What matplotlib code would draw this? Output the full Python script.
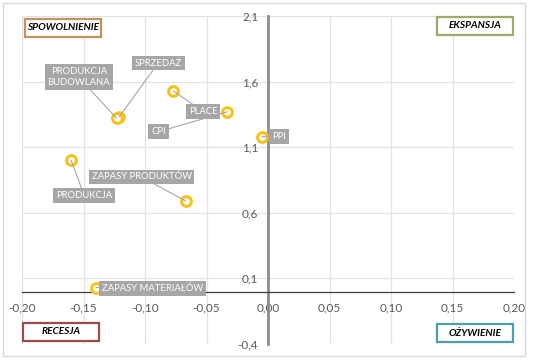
import matplotlib.pyplot as plt
from matplotlib.patches import Rectangle
from matplotlib.ticker import FuncFormatter, MultipleLocator

plt.rcParams['font.family'] = ['Lato', 'DejaVu Sans']

# data
names = ['SPRZEDAŻ', 'PRODUKCJA\nBUDOWLANA', 'PLACE', 'CPI', 'PPI',
         'PRODUKCJA', 'ZAPASY PRODUKTÓW', 'ZAPASY MATERIAŁÓW']
xs = [-0.121, -0.123, -0.077, -0.033, -0.005, -0.160, -0.067, -0.140]
ys = [1.33, 1.32, 1.53, 1.37, 1.18, 1.00, 0.69, 0.03]

# label offsets in pixels (layout only)
offsets = [(39, 54), (-38, 41), (30, -21), (-69, -20), (17, 0),
           (13, -35), (-44, 24), (57, -1)]

quadrants = ['SPOWOLNIENIE', 'EKSPANSJA', 'RECESJA', 'OŻYWIENIE']
quad_colors = ['#c8905a', '#9bab6a', '#9e4a4c', '#4f9ea8']
# box left/top in pixels, from top-left of the image
quad_boxes = [(25, 19), (437, 17), (23, 323), (437, 324)]
W, H = 536, 360

fig = plt.figure(figsize=(5.36, 3.6), dpi=100)
fig.patch.set_facecolor('white')
fig.patches.append(Rectangle((3 / W, 4 / H), 522 / W, 353 / H,
                             transform=fig.transFigure, fill=False,
                             edgecolor='#d9d9d9', linewidth=1))

ax = fig.add_axes([22 / W, 16 / H, 492 / W, 328 / H])
ax.set_xlim(-0.2, 0.2)
ax.set_ylim(-0.4, 2.1)
ax.xaxis.set_major_locator(MultipleLocator(0.05))
ax.set_yticks([-0.4, 0.1, 0.6, 1.1, 1.6, 2.1])
ax.xaxis.set_major_formatter(FuncFormatter(lambda v, p: f'{v:.2f}'.replace('.', ',').replace('-0,00', '0,00')))
ax.yaxis.set_major_formatter(FuncFormatter(lambda v, p: f'{v:.1f}'.replace('.', ',')))
ax.grid(True, color='#e3e3e3', linewidth=0.9)
ax.set_axisbelow(True)

ax.spines['left'].set_position(('data', 0))
ax.spines['bottom'].set_position(('data', 0))
ax.spines['left'].set_color('#8c8c8c')
ax.spines['left'].set_linewidth(2)
ax.spines['bottom'].set_color('#404040')
ax.spines['bottom'].set_linewidth(0.9)
ax.spines['top'].set_visible(False)
ax.spines['right'].set_visible(False)
ax.tick_params(length=0, labelsize=8.5, labelcolor='#595959')
ax.tick_params(axis='x', pad=8)
ax.tick_params(axis='y', pad=7)

ax.plot(xs, ys, 'o', markersize=7, markerfacecolor='white',
        markeredgecolor='#f9c21b', markeredgewidth=2.2, zorder=4, linestyle='none')

for name, x, y, (dx, dy) in zip(names, xs, ys, offsets):
    ax.annotate(name, (x, y), xytext=(dx, dy), textcoords='offset pixels',
                ha='center', va='center', fontsize=6.8, color='white',
                linespacing=1.3,
                bbox=dict(boxstyle='square,pad=0.3', facecolor='#a6a6a6', edgecolor='none'),
                arrowprops=dict(arrowstyle='-', color='#a6a6a6', linewidth=0.8,
                                shrinkA=0, shrinkB=0),
                zorder=5)

for q, c, (bx, by) in zip(quadrants, quad_colors, quad_boxes):
    fig.patches.append(Rectangle((bx / W, 1 - (by + 18) / H), 76 / W, 18 / H,
                                 transform=fig.transFigure, facecolor='white',
                                 edgecolor=c, linewidth=1.6, zorder=6))
    fig.text((bx + 38) / W, 1 - (by + 9) / H, q, ha='center', va='center',
             fontsize=7.3, fontweight='bold', fontstyle='italic',
             color='black', zorder=7)

fig.savefig('out.png', dpi=100)
